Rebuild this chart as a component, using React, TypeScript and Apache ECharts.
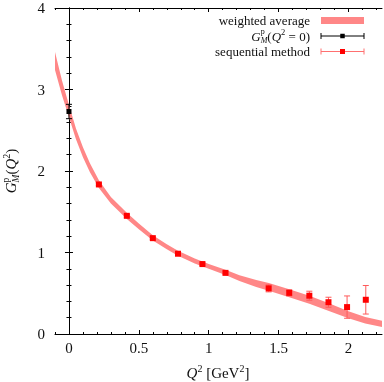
import React, { useEffect, useRef } from "react";
import * as echarts from "echarts";

// ---- data ----
const bandQ2 = [-0.1, -0.05, 0, 0.05, 0.1, 0.15, 0.214, 0.3, 0.414, 0.5, 0.6, 0.7, 0.78, 0.9, 1.0, 1.12, 1.22, 1.34, 1.43, 1.576, 1.72, 1.86, 2.0, 2.12, 2.24];
const bandUpper = [3.46, 3.11, 2.81, 2.52, 2.29, 2.095, 1.885, 1.68, 1.488, 1.356, 1.213, 1.101, 1.02, 0.925, 0.86, 0.787, 0.72, 0.663, 0.626, 0.548, 0.468, 0.378, 0.278, 0.21, 0.163];
const bandLower = [3.24, 2.93, 2.66, 2.39, 2.17, 1.985, 1.79, 1.6, 1.412, 1.284, 1.147, 1.039, 0.96, 0.865, 0.8, 0.725, 0.65, 0.577, 0.53, 0.452, 0.372, 0.282, 0.192, 0.13, 0.087];

const seqQ2 = [0.214, 0.414, 0.6, 0.78, 0.955, 1.12, 1.429, 1.576, 1.72, 1.857, 1.99, 2.124];
const seqG = [1.835, 1.45, 1.176, 0.985, 0.858, 0.75, 0.56, 0.505, 0.47, 0.39, 0.33, 0.42];
const seqErr = [0.015, 0.015, 0.012, 0.012, 0.012, 0.015, 0.043, 0.037, 0.055, 0.061, 0.137, 0.175];

const q0Q2 = [0];
const q0G = [2.73];
const q0Err = [0.088];

const xMajor = [0, 0.5, 1, 1.5, 2];
const xMinor = [-0.1, 0, 0.1, 0.2, 0.3, 0.4, 0.5, 0.6, 0.7, 0.8, 0.9, 1.0, 1.1, 1.2, 1.3, 1.4, 1.5, 1.6, 1.7, 1.8, 1.9, 2.0, 2.1, 2.2];

const FONT = '"Liberation Serif", "Times New Roman", serif';
const BAND = "#ff8787";
const RED = "#ff0000";
const RED_BAR = "#ff5a5a";

type Part = { t: string; size: number; italic?: boolean; dy?: number; stack?: boolean };

function measure(text: string, size: number, italic?: boolean) {
  const c = document.createElement("canvas").getContext("2d")!;
  c.font = `${italic ? "italic " : ""}${size}px ${FONT}`;
  return c.measureText(text).width;
}

function mathText(parts: Part[], anchor: "left" | "center" | "right", fill = "#111") {
  let x = 0;
  let lastStart = 0;
  let lastW = 0;
  const placed: { p: Part; x: number }[] = [];
  for (const p of parts) {
    const w = measure(p.t, p.size, p.italic);
    if (p.stack) {
      placed.push({ p, x: lastStart });
      x = Math.max(lastStart + lastW, lastStart + w);
      lastW = Math.max(lastW, w);
    } else {
      placed.push({ p, x });
      lastStart = x;
      lastW = w;
      x += w;
    }
  }
  const total = x;
  const off = anchor === "left" ? 0 : anchor === "center" ? -total / 2 : -total;
  return placed.map(({ p, x: px }) => ({
    type: "text",
    x: px + off,
    y: p.dy || 0,
    silent: true,
    style: {
      text: p.t,
      fontSize: p.size,
      fontFamily: FONT,
      fontStyle: p.italic ? "italic" : "normal",
      fill,
      align: "left",
      verticalAlign: "middle",
      textAlign: "left",
      textVerticalAlign: "middle",
    },
  }));
}

function errorBarRender(color: string, markColor: string, size: number, cap: number) {
  return (params: any, api: any) => {
    const x = api.value(0);
    const y = api.value(1);
    const e = api.value(2);
    const c = api.coord([x, y]);
    const hi = api.coord([x, y + e]);
    const lo = api.coord([x, y - e]);
    const ls = { stroke: color, lineWidth: 1 };
    return {
      type: "group",
      children: [
        { type: "line", shape: { x1: c[0], y1: hi[1], x2: c[0], y2: lo[1] }, style: ls },
        { type: "line", shape: { x1: c[0] - cap, y1: hi[1], x2: c[0] + cap, y2: hi[1] }, style: ls },
        { type: "line", shape: { x1: c[0] - cap, y1: lo[1], x2: c[0] + cap, y2: lo[1] }, style: ls },
        { type: "rect", shape: { x: c[0] - size / 2, y: c[1] - size / 2, width: size, height: size }, style: { fill: markColor } },
      ],
    };
  };
}

const axisLineStyle = { show: true, lineStyle: { color: "#000", width: 1 } };

function xAxisDef(position: "top" | "bottom", values: number[], len: number, labels: boolean, line: boolean) {
  return {
    type: "value",
    position,
    min: -0.1,
    max: 2.24,
    axisLine: line ? axisLineStyle : { show: false },
    axisTick: { show: true, inside: true, length: len, customValues: values, lineStyle: { color: "#000", width: 1 } },
    axisLabel: labels
      ? { show: true, customValues: values, fontSize: 15, fontFamily: FONT, color: "#111", margin: 6 }
      : { show: false },
    splitLine: { show: false },
  };
}

function yAxisDef(position: "left" | "right", labels: boolean) {
  return {
    type: "value",
    position,
    min: 0,
    max: 4,
    interval: 1,
    axisLine: axisLineStyle,
    axisTick: { show: true, inside: true, length: 4, lineStyle: { color: "#000", width: 1 } },
    minorTick: { show: true, splitNumber: 5, length: 2.5, lineStyle: { color: "#000", width: 1 } },
    axisLabel: labels ? { show: true, fontSize: 15, fontFamily: FONT, color: "#111", margin: 10 } : { show: false },
    splitLine: { show: false },
    minorSplitLine: { show: false },
  };
}

export default function App() {
  const ref = useRef<HTMLDivElement>(null);
  useEffect(() => {
    if (!ref.current) return;
    const chart = echarts.init(ref.current, undefined, { renderer: "svg" });

    const yTitle = mathText(
      [
        { t: "G", size: 15, italic: true },
        { t: "p", size: 9.5, dy: -5.5 },
        { t: "M", size: 9.5, italic: true, dy: 5, stack: true },
        { t: "(", size: 15 },
        { t: "Q", size: 15, italic: true },
        { t: "2", size: 10, dy: -5 },
        { t: ")", size: 15 },
      ],
      "center"
    );
    const xTitle = mathText(
      [
        { t: "Q", size: 15, italic: true },
        { t: "2", size: 10, dy: -5 },
        { t: " [GeV", size: 15 },
        { t: "2", size: 10, dy: -5 },
        { t: "]", size: 15 },
      ],
      "center"
    );
    const legMath = mathText(
      [
        { t: "G", size: 13, italic: true },
        { t: "p", size: 8, dy: -4.5 },
        { t: "M", size: 8, italic: true, dy: 4.2, stack: true },
        { t: "(", size: 13 },
        { t: "Q", size: 13, italic: true },
        { t: "2", size: 8.5, dy: -4 },
        { t: " = 0)", size: 13 },
      ],
      "right"
    );

    const legText = (text: string, y: number) => ({
      type: "text",
      x: 310,
      y,
      silent: true,
      style: {
        text,
        fontSize: 13,
        fontFamily: FONT,
        fill: "#111",
        align: "right",
        verticalAlign: "middle",
        textAlign: "right",
        textVerticalAlign: "middle",
      },
    });
    const legBar = (y: number, color: string, mark: string, size: number) => ({
      type: "group",
      silent: true,
      children: [
        { type: "line", shape: { x1: 321, y1: y, x2: 364, y2: y }, style: { stroke: color, lineWidth: 1 } },
        { type: "line", shape: { x1: 321, y1: y - 3, x2: 321, y2: y + 3 }, style: { stroke: color, lineWidth: 1 } },
        { type: "line", shape: { x1: 364, y1: y - 3, x2: 364, y2: y + 3 }, style: { stroke: color, lineWidth: 1 } },
        { type: "rect", shape: { x: 342.5 - size / 2, y: y - size / 2, width: size, height: size }, style: { fill: mark } },
      ],
    });

    chart.setOption({
      animation: false,
      grid: { left: 55, top: 8, width: 327, height: 326, show: false },
      xAxis: [
        xAxisDef("bottom", xMajor, 4, true, true),
        xAxisDef("bottom", xMinor, 2, false, false),
        xAxisDef("top", xMajor, 4, false, true),
        xAxisDef("top", xMinor, 2, false, false),
      ],
      yAxis: [yAxisDef("left", true), yAxisDef("right", false)],
      series: [
        {
          type: "custom",
          name: "weighted average",
          xAxisIndex: 0,
          yAxisIndex: 0,
          clip: true,
          data: [[bandQ2[0], bandUpper[0]]],
          encode: { x: 0, y: 1 },
          renderItem: (params: any, api: any) => {
            if (params.dataIndex !== 0) return null;
            const pts: number[][] = [];
            for (let i = 0; i < bandQ2.length; i++) pts.push(api.coord([bandQ2[i], bandUpper[i]]));
            for (let i = bandQ2.length - 1; i >= 0; i--) pts.push(api.coord([bandQ2[i], bandLower[i]]));
            return { type: "polygon", shape: { points: pts }, style: { fill: BAND } };
          },
        },
        {
          type: "custom",
          name: "sequential method",
          xAxisIndex: 0,
          yAxisIndex: 0,
          data: seqQ2.map((q, i) => [q, seqG[i], seqErr[i]]),
          encode: { x: 0, y: 1 },
          renderItem: errorBarRender(RED_BAR, RED, 6, 3),
        },
        {
          type: "custom",
          name: "Q2=0",
          xAxisIndex: 0,
          yAxisIndex: 0,
          data: q0Q2.map((q, i) => [q, q0G[i], q0Err[i]]),
          encode: { x: 0, y: 1 },
          renderItem: errorBarRender("#000", "#000", 5, 3),
        },
      ],
      graphic: [
        { type: "group", x: 11, y: 171, rotation: Math.PI / 2, silent: true, children: yTitle },
        { type: "group", x: 218, y: 373, silent: true, children: xTitle },
        legText("weighted average", 20.5),
        { type: "rect", silent: true, shape: { x: 321, y: 17, width: 43, height: 7 }, style: { fill: BAND } },
        { type: "group", x: 310, y: 36, silent: true, children: legMath },
        legBar(36, "#000", "#000", 4.5),
        legText("sequential method", 51.5),
        legBar(51.5, "#ff7070", RED, 5),
      ],
    });
    return () => chart.dispose();
  }, []);
  return <div ref={ref} style={{ position: "fixed", left: 0, top: 0, width: 384, height: 382 }} />;
}
